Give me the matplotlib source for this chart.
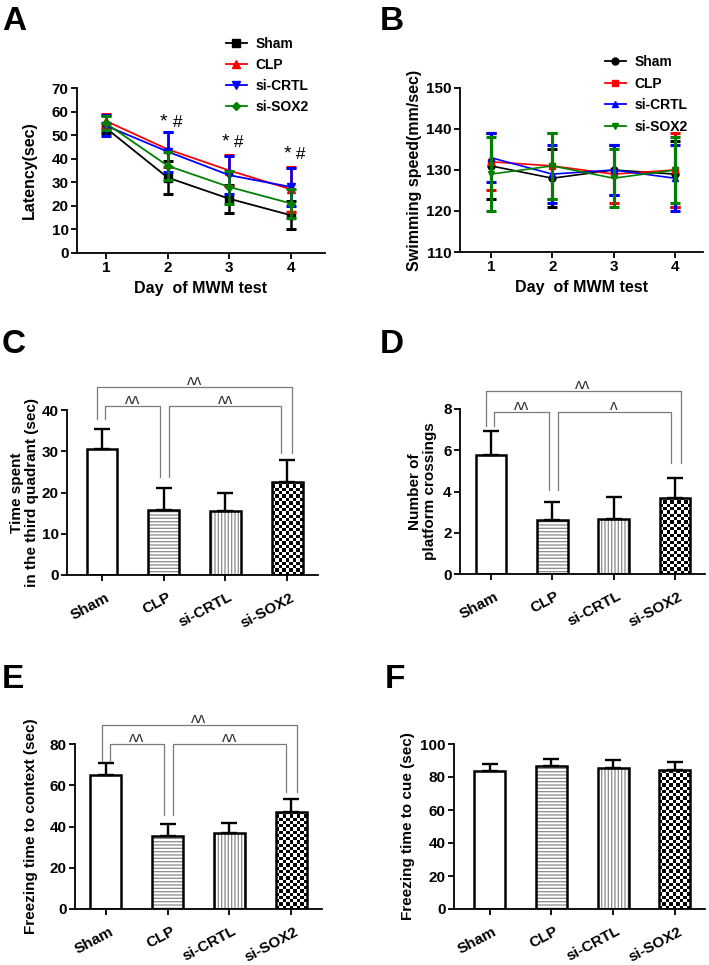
import numpy as np
import matplotlib
matplotlib.use("Agg")
import matplotlib.pyplot as plt
from matplotlib.lines import Line2D
from matplotlib.transforms import ScaledTranslation

plt.rcParams['font.family'] = ['Liberation Sans', 'DejaVu Sans']
plt.rcParams['font.weight'] = 'bold'
plt.rcParams['axes.labelweight'] = 'bold'
plt.rcParams['hatch.linewidth'] = 0.9

# ---------------- data ----------------
groups = ['Sham', 'CLP', 'si-CRTL', 'si-SOX2']
days = [1, 2, 3, 4]

# Panel A: latency (sec)
lat_sham = [53, 32, 23, 16]
lat_sham_err = [2, 7, 6, 6]
lat_clp = [56, 44, 35, 27]
lat_clp_err = [3, 7.5, 6.5, 9.5]
lat_crtl = [54, 43, 33, 28]
lat_crtl_err = [4.5, 8.5, 8, 8]
lat_sox2 = [55, 37, 28, 21]
lat_sox2_err = [3, 6, 7, 6]
lat_sig_days = [2, 3, 4]
lat_sig_y = [53.5, 45, 40]

# Panel B: swimming speed (mm/sec)
spd_sham = [131, 128, 130, 129]
spd_sham_err = [8, 7, 6, 8]
spd_clp = [132, 131, 129, 130]
spd_clp_err = [7, 8, 7, 9]
spd_crtl = [133, 129, 130, 128]
spd_crtl_err = [6, 7, 6, 8]
spd_sox2 = [129, 131, 128, 130]
spd_sox2_err = [9, 8, 7, 8]

# Panel C: time in third quadrant
quad = [30.5, 15.7, 15.5, 22.6]
quad_err = [5.0, 5.3, 4.5, 5.2]
# Panel D: platform crossings
cross = [5.75, 2.6, 2.65, 3.7]
cross_err = [1.2, 0.9, 1.1, 0.95]
# Panel E: freezing to context
ctx = [65, 35.5, 37, 47.2]
ctx_err = [5.8, 5.5, 4.5, 6.3]
# Panel F: freezing to cue
cue = [83.5, 86.5, 85.5, 84]
cue_err = [4.5, 4.5, 5.0, 5.0]

# comparisons: (group i, group j, label)
comp_C = [(0, 3, 'ʌʌ'), (0, 1, 'ʌʌ'), (1, 3, 'ʌʌ')]
comp_D = [(0, 3, 'ʌʌ'), (0, 1, 'ʌʌ'), (1, 3, 'ʌ')]
comp_E = [(0, 3, 'ʌʌ'), (0, 1, 'ʌʌ'), (1, 3, 'ʌʌ')]

W, H = 709, 965
fig = plt.figure(figsize=(W / 100, H / 100), dpi=100)


def axes_px(l, r, b, t):
    return fig.add_axes([l / W, 1 - b / H, (r - l) / W, (b - t) / H])


def style(ax):
    for s in ['top', 'right']:
        ax.spines[s].set_visible(False)
    for s in ['left', 'bottom']:
        ax.spines[s].set_linewidth(1.3)
    ax.tick_params(direction='out', length=4, width=1.3, labelsize=11, pad=2)
    for lab in ax.get_xticklabels() + ax.get_yticklabels():
        lab.set_fontweight('bold')


def legend_px(ax, handles, x, y, spacing):
    leg = ax.legend(handles=handles, loc='upper left', bbox_to_anchor=(x / W, 1 - y / H),
                    bbox_transform=fig.transFigure, frameon=False, fontsize=10,
                    handlelength=1.5, handletextpad=0.6, labelspacing=spacing,
                    borderpad=0, borderaxespad=0)
    for t in leg.get_texts():
        t.set_fontweight('bold')
    return leg


# ---------------- panel A ----------------
axA = axes_px(77, 325, 253, 88)
specA = [(lat_sham, lat_sham_err, '#000000', 's', 'Sham', 5.5),
         (lat_clp, lat_clp_err, '#ff0000', '^', 'CLP', 5.5),
         (lat_crtl, lat_crtl_err, '#0000ff', 'v', 'si-CRTL', 5.5),
         (lat_sox2, lat_sox2_err, '#008000', 'D', 'si-SOX2', 4.5)]
handlesA = []
for i, (v, e, c, m, lab, ms) in enumerate(specA):
    axA.errorbar(days, v, yerr=e, color=c, marker=m, ms=ms,
                 lw=1.3, elinewidth=1.8, capsize=3.5, capthick=2.2, zorder=3 + i)
    handlesA.append(Line2D([], [], color=c, marker=m, ms=ms, lw=1.3, label=lab))
axA.set_xlim(0.53, 4.55)
axA.set_ylim(0, 70)
axA.set_yticks(range(0, 71, 10))
axA.set_xticks(days)
axA.set_ylabel('Latency(sec)', fontsize=11.5)
axA.yaxis.set_label_coords(-0.16, 0.5)
axA.set_xlabel('Day  of MWM test', fontsize=11.5, labelpad=4)
for d, y in zip(lat_sig_days, lat_sig_y):
    axA.text(d, y, '*', ha='right', va='baseline', fontsize=14, fontweight='normal')
    axA.text(d, y, ' #', ha='left', va='baseline', fontsize=12.5, fontweight='normal')
style(axA)
legend_px(axA, handlesA, 226, 37, 0.5)

# ---------------- panel B ----------------
axB = axes_px(460, 703, 252, 88)
specB = [(spd_sham, spd_sham_err, '#000000', 'o', 'Sham'),
         (spd_clp, spd_clp_err, '#ff0000', 's', 'CLP'),
         (spd_crtl, spd_crtl_err, '#0000ff', '^', 'si-CRTL'),
         (spd_sox2, spd_sox2_err, '#008000', 'v', 'si-SOX2')]
handlesB = []
for i, (v, e, c, m, lab) in enumerate(specB):
    axB.errorbar(days, v, yerr=e, color=c, marker=m, ms=5, lw=1.2, elinewidth=2.2,
                 capsize=3.5, capthick=2.2, zorder=3 + i)
    handlesB.append(Line2D([], [], color=c, marker=m, ms=5, lw=1.3, label=lab))
axB.set_xlim(0.494, 4.46)
axB.set_ylim(110, 150)
axB.set_yticks(range(110, 151, 10))
axB.set_xticks(days)
axB.set_ylabel('Swimming speed(mm/sec)', fontsize=11.5)
axB.yaxis.set_label_coords(-0.156, 0.5)
axB.set_xlabel('Day  of MWM test', fontsize=11.5, labelpad=4)
style(axB)
legend_px(axB, handlesB, 605, 55, 0.55)


# ---------------- bar panels ----------------
def checker_fill(ax, patch, cell_px=3.3):
    x0, y0 = patch.get_x(), patch.get_y()
    w, h = patch.get_width(), patch.get_height()
    pos = ax.get_position()
    xr, yr = ax.get_xlim(), ax.get_ylim()
    ppx = pos.width * W / (xr[1] - xr[0])
    ppy = pos.height * H / (yr[1] - yr[0])
    nx = max(1, int(round(w * ppx / cell_px)))
    ny = max(1, int(round(h * ppy / cell_px)))
    img = np.add.outer(np.arange(ny), np.arange(nx)) % 2
    im = ax.imshow(img, extent=(x0, x0 + w, y0, y0 + h), cmap='gray', vmin=0, vmax=1,
                   interpolation='nearest', aspect='auto', zorder=2, origin='lower')
    im.set_clip_path(patch)


def bar_panel(ax, vals, errs, xlim, ylim, yticks, ylabel, ylab_x, ylab_fs=11):
    x = np.arange(len(groups))
    ax.set_xlim(*xlim)
    ax.set_ylim(*ylim)
    hatches = [None, '-----', '|||||', None]
    for i in range(len(groups)):
        b = ax.bar(x[i], vals[i], 0.5, color='white', edgecolor='#8a8a8a', lw=0,
                   hatch=hatches[i], zorder=2)
        if i == 3:
            checker_fill(ax, b.patches[0])
        ax.bar(x[i], vals[i], 0.5, fill=False, edgecolor='black', lw=1.8, zorder=3)
    ax.errorbar(x, vals, yerr=[np.zeros(len(vals)), errs], fmt='none', ecolor='black',
                elinewidth=1.7, capsize=6, capthick=1.7, zorder=4)
    ax.set_xlim(*xlim)
    ax.set_ylim(*ylim)
    ax.set_yticks(yticks)
    ax.set_xticks(x)
    ax.set_xticklabels(groups, rotation=28, ha='right', va='top', rotation_mode='anchor')
    ax.set_ylabel(ylabel, fontsize=ylab_fs, linespacing=1.1)
    ax.yaxis.set_label_coords(ylab_x, 0.5)
    style(ax)
    ax.tick_params(axis='x', pad=7)
    off = ScaledTranslation(3 / 100, 0, fig.dpi_scale_trans)
    for lab in ax.get_xticklabels():
        lab.set_fontsize(11)
        lab.set_transform(lab.get_transform() + off)


def brackets(ax, comps, levels, legs, offs):
    x = np.arange(len(groups))
    for (i, j, lab), y, (li, lj), (di, dj) in zip(comps, levels, legs, offs):
        xi, xj = x[i] + di, x[j] + dj
        ax.plot([xi, xi, xj, xj], [li, y, y, lj], color='#7a7a7a', lw=0.9,
                clip_on=False, zorder=5)
        ax.annotate(lab, xy=((x[i] + x[j]) / 2, y), xytext=(0, 1.5), textcoords='offset points',
                    ha='center', va='baseline', fontsize=11, fontweight='normal',
                    color='#333333', annotation_clip=False)


# C
axC = axes_px(67, 318, 575, 410)
bar_panel(axC, quad, quad_err, (-0.567, 3.5), (0, 40), range(0, 41, 10),
          'Time spent\nin the third quadrant (sec)', -0.112)
brackets(axC, comp_C, [45.6, 41, 41], [(37.8, 29.5), (37.8, 23.8), (23.8, 29.5)],
         [(-0.08, 0.08), (0.05, -0.06), (0.08, -0.1)])

# D
axD = axes_px(460, 705, 574, 409)
bar_panel(axD, cross, cross_err, (-0.506, 3.49), (0, 8), range(0, 9, 2),
          'Number of\nplatform crossings', -0.094)
brackets(axD, comp_D, [8.87, 7.85, 7.85], [(7.17, 5.38), (7.17, 4.07), (4.07, 5.38)],
         [(-0.08, 0.1), (0.05, -0.05), (0.1, -0.07)])

# E
axE = axes_px(75, 322, 909, 744)
bar_panel(axE, ctx, ctx_err, (-0.5, 3.5), (0, 80), range(0, 81, 20),
          'Freezing time to context (sec)', -0.150)
brackets(axE, comp_E, [89.2, 80, 80], [(71.8, 56.7), (71.8, 45.6), (45.6, 56.7)],
         [(-0.065, 0.1), (0.065, -0.06), (0.08, -0.08)])

# F
axF = axes_px(454, 705, 909, 744)
bar_panel(axF, cue, cue_err, (-0.58, 3.49), (0, 100), range(0, 101, 20),
          'Freezing time to cue (sec)', -0.155)

# panel letters
for lab, xp, yp in [('A', 2, 30), ('B', 380, 30), ('C', 2, 353), ('D', 380, 353),
                    ('E', 2, 688), ('F', 385, 688)]:
    fig.text(xp / W, 1 - yp / H, lab, fontsize=24, fontweight='bold', ha='left', va='baseline')

fig.savefig('out.png', dpi=100)
